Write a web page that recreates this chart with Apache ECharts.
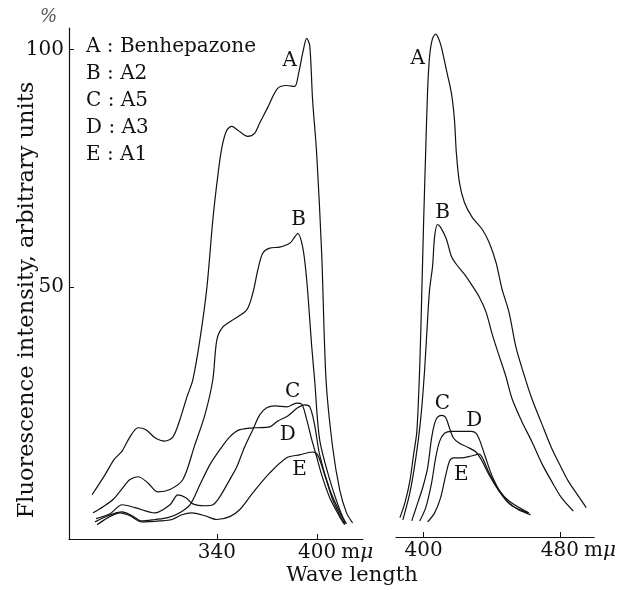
<!DOCTYPE html>
<html>
<head>
<meta charset="utf-8">
<title>Fluorescence spectra</title>
<script src="https://cdn.jsdelivr.net/npm/echarts@6/dist/echarts.min.js"></script>
<style>
  html, body { margin: 0; padding: 0; background: #fff; }
  #chart { width: 619px; height: 590px; }
</style>
</head>
<body>
<div id="chart"></div>
<script>
// excitation spectra (left panel), [wave length mμ, intensity %]
const exA = [[265.7,6.3],[273.4,10.5],[278.8,13.7],[283.6,15.5],[288.3,18.5],[293.1,20.4],[297.8,20.0],[303.2,18.3],[309.1,17.6],[313.9,18.5],[318.0,22.1],[322.2,26.9],[325.7,30.5],[329.9,38.9],[334.1,50.0],[337.6,64.1],[340.6,73.5],[343.0,79.4],[345.9,83.0],[348.9,83.8],[352.5,83.0],[358.4,81.7],[362.6,82.4],[365.5,84.5],[370.3,87.8],[376.2,91.8],[381.6,92.4],[386.3,92.2],[388.7,95.0],[391.1,99.2],[393.5,102.3],[395.3,100.8],[397.0,89.3],[399.4,78.2],[402.4,57.1],[405.0,30.5],[408.9,16.4],[413.1,7.4],[417.2,2.5],[420.8,0.4]];
const exB = [[266.3,2.5],[272.3,3.8],[278.2,5.3],[284.1,7.8],[288.3,9.5],[293.1,10.1],[299.0,8.8],[304.9,6.9],[312.1,7.4],[319.8,9.5],[326.9,16.8],[332.9,23.1],[337.6,30.5],[340.0,38.9],[343.6,41.6],[349.5,43.1],[357.8,45.2],[361.4,48.7],[364.4,53.6],[367.3,57.1],[371.5,58.2],[377.4,58.4],[383.4,59.2],[386.3,60.5],[388.1,61.3],[391.1,58.4],[393.5,51.5],[396.5,37.4],[398.2,30.5],[401.2,17.9],[407.2,9.5],[413.1,3.2],[416.7,0.2]];
const exC = [[268.1,1.3],[276.4,2.3],[283.6,4.2],[291.3,3.6],[303.2,2.5],[312.1,4.2],[316.8,6.3],[321.6,5.7],[325.7,4.4],[332.9,4.0],[337.6,4.2],[341.8,5.9],[347.7,9.5],[351.9,12.2],[356.6,16.4],[361.4,20.0],[365.5,23.1],[369.7,24.6],[374.5,25.0],[381.6,24.8],[387.5,25.6],[390.5,25.4],[393.5,22.1],[396.5,17.9],[399.4,14.3],[402.4,10.5],[407.2,5.7],[413.1,1.7],[416.1,0.0]];
const exD = [[267.5,0.6],[275.2,1.9],[283.6,2.7],[289.5,1.9],[295.4,0.8],[303.2,1.1],[310.9,1.5],[316.8,2.3],[324.0,4.2],[329.9,8.4],[335.8,12.6],[341.8,15.8],[347.7,18.5],[353.7,20.0],[362.6,20.4],[371.5,20.6],[376.2,21.8],[382.2,22.9],[388.1,24.6],[392.3,25.2],[395.3,24.8],[398.2,21.0],[401.2,14.7],[407.2,7.4],[413.1,2.7],[417.2,0.2]];
const exE = [[268.7,0.0],[275.2,1.5],[282.4,2.5],[288.3,1.9],[295.4,0.6],[306.1,0.8],[313.3,1.1],[319.2,2.1],[325.1,2.5],[332.9,1.9],[340.0,1.1],[347.7,1.7],[353.7,3.2],[361.4,6.7],[371.5,10.9],[381.6,14.1],[389.3,14.7],[397.0,15.3],[400.0,14.7],[404.2,10.5],[408.9,5.3],[413.1,2.1],[416.1,0.2]];

// emission spectra (right panel)
const emA = [[386.1,1.1],[389.0,4.2],[391.9,8.8],[394.2,14.7],[396.0,19.3],[397.7,33.2],[398.8,47.3],[400.0,64.1],[401.2,78.8],[402.3,91.4],[403.5,98.7],[405.2,102.3],[407.0,103.2],[408.7,102.3],[410.4,100.4],[413.3,95.6],[416.2,90.8],[418.0,85.1],[419.1,78.2],[420.9,71.9],[423.8,67.7],[428.4,64.5],[434.2,62.0],[438.3,59.2],[442.3,55.0],[445.8,49.4],[449.9,44.5],[453.9,37.2],[458.5,31.5],[463.2,26.3],[469.0,21.0],[474.8,15.8],[480.0,12.0],[484.6,8.8],[490.4,5.7],[495.1,3.2]];
const emB = [[387.8,0.6],[391.9,6.3],[395.4,13.7],[398.3,22.1],[400.6,32.6],[402.3,43.1],[403.5,49.4],[405.2,54.2],[406.4,60.5],[408.1,63.0],[409.9,62.4],[413.3,59.9],[416.2,56.3],[419.1,54.6],[423.8,52.5],[427.8,50.4],[432.5,47.7],[436.5,44.5],[440.0,39.9],[444.1,35.3],[448.1,30.9],[451.6,26.3],[457.4,21.4],[463.2,17.2],[469.0,12.6],[474.8,8.8],[480.6,5.3],[487.5,2.5]];
const emC = [[393.0,0.4],[396.5,4.2],[399.4,7.4],[402.3,11.6],[404.6,17.9],[406.4,21.0],[408.1,22.3],[410.4,22.7],[412.8,22.3],[415.1,20.0],[417.4,17.9],[420.9,16.8],[425.5,16.0],[430.7,14.9],[434.2,13.0],[438.3,10.1],[444.1,6.7],[449.9,4.2],[455.7,2.7],[462.6,1.7]];
const emD = [[397.7,0.4],[401.2,3.2],[404.6,8.4],[407.0,13.7],[409.3,17.2],[412.2,18.9],[416.2,19.3],[422.0,19.3],[427.8,19.3],[430.7,18.9],[433.0,17.2],[435.9,14.1],[440.0,9.9],[445.8,5.9],[451.6,3.6],[461.4,2.1]];
const emE = [[402.3,0.2],[406.4,2.1],[409.9,5.3],[412.8,9.9],[415.1,13.0],[417.4,13.7],[422.0,13.7],[427.8,14.1],[432.5,14.5],[434.8,13.4],[438.3,10.5],[444.1,6.9],[449.9,4.6],[461.4,2.1]];

const curveNames = ['A', 'B', 'C', 'D', 'E'];
const exLabelAt = [[383.4,97.7],[388.7,64.1],[385.2,27.9],[382.2,18.9],[389.3,11.6]];
const emLabelAt = [[396.5,98.1],[411.0,65.5],[411.0,25.2],[429.6,21.6],[422.0,10.1]];
const legendLines = ['A : Benhepazone', 'B : A2', 'C : A5', 'D : A3', 'E : A1'];
const yTicks = [50, 100];
const exTicks = [340, 400];
const emTicks = [400, 480];

const FONT = '"DejaVu Serif", "Liberation Serif", serif';
const INK = '#111';

const chart = echarts.init(document.getElementById('chart'));

function tickLabel(ticks, lastTick) {
  return {
    customValues: ticks,
    margin: 4,
    color: INK,
    fontFamily: FONT,
    fontSize: 20,
    formatter: function (v) {
      return v === lastTick ? '{s|}{n|' + v + '}{u|m}{mu|μ}' : '{n|' + v + '}';
    },
    rich: {
      n: { fontFamily: FONT, fontSize: 20, color: INK },
      s: { width: 36 },
      u: { fontFamily: FONT, fontSize: 20, color: INK, padding: [0, 0, 0, 5] },
      mu: { fontFamily: FONT, fontSize: 20, color: INK, fontStyle: 'italic' }
    }
  };
}

function lineSeries(data, idx) {
  return {
    type: 'line', data: data, xAxisIndex: idx, yAxisIndex: idx,
    showSymbol: false, smooth: 0.3, silent: true,
    lineStyle: { color: INK, width: 1.2 }
  };
}

function labelSeries(at, idx) {
  return {
    type: 'scatter', xAxisIndex: idx, yAxisIndex: idx, symbolSize: 0, silent: true,
    data: at.map((p, i) => ({ name: curveNames[i], value: p })),
    label: { show: true, position: 'inside', formatter: '{b}', color: INK, opacity: 1, fontFamily: FONT, fontSize: 20 }
  };
}

const option = {
  backgroundColor: '#fff',
  animation: false,
  grid: [
    { left: 69, top: 28, width: 294, height: 511 },
    { left: 396, top: 28, width: 200, height: 509 }
  ],
  xAxis: [
    {
      gridIndex: 0, type: 'value', min: 252, max: 427,
      axisLine: { onZero: false, lineStyle: { color: INK, width: 1.2 } },
      axisTick: { inside: true, length: 5, customValues: exTicks, lineStyle: { color: INK } },
      axisLabel: tickLabel(exTicks, 400),
      splitLine: { show: false }
    },
    {
      gridIndex: 1, type: 'value', min: 383.8, max: 499.7,
      axisLine: { onZero: false, lineStyle: { color: INK, width: 1.2 } },
      axisTick: { inside: true, length: 5, customValues: emTicks, lineStyle: { color: INK } },
      axisLabel: tickLabel(emTicks, 480),
      splitLine: { show: false }
    }
  ],
  yAxis: [
    {
      gridIndex: 0, type: 'value', min: -3, max: 104.5,
      axisLine: { show: true, onZero: false, lineStyle: { color: INK, width: 1.2 } },
      axisTick: { show: true, inside: true, length: 5, customValues: yTicks, lineStyle: { color: INK } },
      axisLabel: { customValues: yTicks, margin: 5, color: INK, fontFamily: FONT, fontSize: 20 },
      splitLine: { show: false }
    },
    {
      gridIndex: 1, type: 'value', min: -3, max: 104.5, show: false,
      splitLine: { show: false }
    }
  ],
  graphic: [
    { type: 'text', left: 40, top: 8, style: { text: '%', fill: '#555', font: 'italic 18px ' + FONT } },
    { type: 'text', x: 352, y: 576, style: { text: 'Wave length', fill: INK, font: '21px ' + FONT, textAlign: 'center', textVerticalAlign: 'middle' } },
    { type: 'text', x: 27, y: 300, rotation: Math.PI / 2,
      style: { text: 'Fluorescence intensity, arbitrary units', fill: INK, font: '22.5px ' + FONT, textAlign: 'center', textVerticalAlign: 'middle' } }
  ].concat(legendLines.map((t, i) => ({
    type: 'text', x: 86, y: 47 + i * 27,
    style: { text: t, fill: INK, font: '20px ' + FONT, textVerticalAlign: 'middle' }
  }))),
  series: [
    lineSeries(exA, 0), lineSeries(exB, 0), lineSeries(exC, 0), lineSeries(exD, 0), lineSeries(exE, 0),
    lineSeries(emA, 1), lineSeries(emB, 1), lineSeries(emC, 1), lineSeries(emD, 1), lineSeries(emE, 1),
    labelSeries(exLabelAt, 0), labelSeries(emLabelAt, 1)
  ]
};

chart.setOption(option);
</script>
</body>
</html>
